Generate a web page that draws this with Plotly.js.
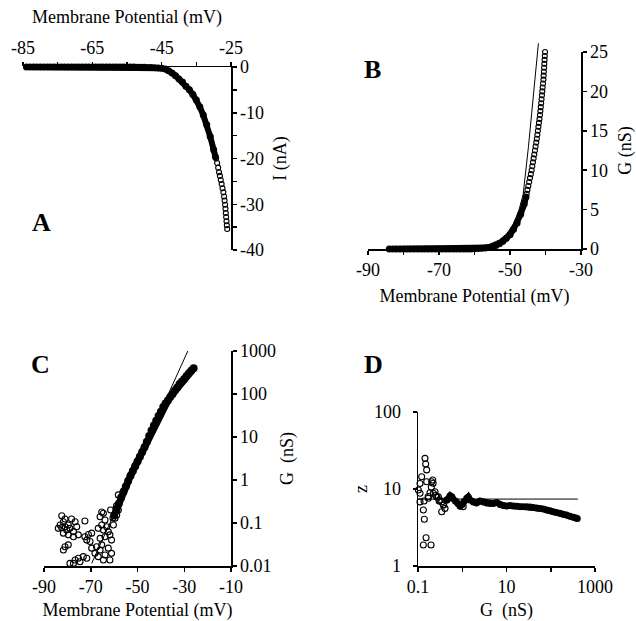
<!DOCTYPE html>
<html>
<head>
<meta charset="utf-8">
<script src="https://cdn.plot.ly/plotly-3.0.1.min.js"></script>
<style>html,body{margin:0;padding:0;background:#fff;}#chart{width:636px;height:621px;}</style>
</head>
<body>
<div id="chart"></div>
<script>
// ---------- Panel A : I-V relation ----------
const aBandV = [-84,-83,-82,-81,-80,-79,-78,-77,-76,-75,-74,-73,-72,-71,-70,-69,-68,-67,-66,-65,-64,-63,-62,-61,-60,-59,-58,-57,-56,-55,-54,-53,-52,-51,-50,-49,-48,-47,-46,-45,-44,-43,-42,-41,-40,-39,-38,-37,-36,-35,-34,-33,-32,-31,-30,-29.5];
const aBandI = [0,0,0,0,0,0,0,0,0,0,0,0,0,0,0,0,0,0,0,0,0,0,0,0,0,0,0,0,0,0,0,0,-0.05,-0.05,-0.05,-0.1,-0.1,-0.15,-0.2,-0.3,-0.45,-0.8,-1.3,-1.9,-2.6,-3.3,-4.2,-5.0,-6.0,-7.2,-8.7,-10.5,-12.6,-15.2,-18.1,-19.6];
const aTailV = [-29.3,-29.0,-28.7,-28.45,-28.2,-27.95,-27.7,-27.45,-27.2,-27.0,-26.85,-26.7,-26.6,-26.5,-26.4,-26.3,-26.2,-26.1];
const aTailI = [-20.0,-21.0,-22.0,-23.0,-23.8,-24.7,-25.6,-26.5,-27.4,-28.3,-29.2,-30.1,-31.0,-31.9,-32.8,-33.7,-34.6,-35.4];
const aXTicks = [-85,-75,-65,-55,-45,-35,-25];
const aXText = ['-85','','-65','','-45','','-25'];
const aYTicks = [-40,-35,-30,-25,-20,-15,-10,-5,0];
const aYText = ['-40','','-30','','-20','','-10','','0'];

// ---------- Panel B : conductance (linear) ----------
const bBandV = [-84,-83,-82,-81,-80,-79,-78,-77,-76,-75,-74,-73,-72,-71,-70,-69,-68,-67,-66,-65,-64,-63,-62,-61,-60,-59,-58,-57,-56,-55,-54,-53,-52,-51,-50,-49,-48,-47,-46,-45.5];
const bBandG = [0,0,0,0,0,0,0,0,0,0,0,0,0,0,0,0,0,0,0,0,0,0,0,0,0.02,0.05,0.08,0.12,0.18,0.3,0.45,0.68,0.98,1.35,1.8,2.5,3.3,4.4,5.7,6.6];
const bTailV = [-45.3,-45.08,-44.84,-44.6,-44.37,-44.13,-43.9,-43.72,-43.53,-43.35,-43.16,-42.98,-42.8,-42.61,-42.44,-42.29,-42.15,-42.0,-41.85,-41.7,-41.56,-41.44,-41.33,-41.22,-41.11,-41.0,-40.9,-40.8,-40.7,-40.59,-40.52,-40.46,-40.4,-40.33,-40.26,-40.2,-40.13,-40.1];
const bTailG = [7.0,7.5,8.0,8.5,9.0,9.5,10.0,10.5,11.0,11.5,12.0,12.5,13.0,13.5,14.0,14.5,15.0,15.5,16.0,16.5,17.0,17.5,18.0,18.5,19.0,19.5,20.0,20.5,21.0,21.5,22.0,22.5,23.0,23.5,24.0,24.5,25.0,25.3];
const bFitV = [-84,-70,-60,-56,-53,-51,-49,-47.5,-46.3,-45.8,-44.8,-43.9,-43.0,-42.0];
const bFitG = [0,0.02,0.2,0.55,1.15,1.9,3.2,4.9,6.9,8.8,13.0,17.2,21.4,26.1];
const bXTicks = [-90,-80,-70,-60,-50,-40,-30];
const bXText = ['-90','','-70','','-50','','-30'];
const bYTicks = [0,5,10,15,20,25];
const bYText = ['0','5','10','15','20','25'];

// ---------- Panel C : conductance (log) ----------
const cBandV = [-60,-59,-58,-57,-56,-55,-54,-53,-52,-51,-50,-49,-48,-47,-46,-45,-44,-43,-42,-41,-40,-39,-38,-37,-36,-35,-34,-33,-32,-31,-30,-29,-28,-27,-26];
const cBandG = [0.15,0.21,0.28,0.39,0.53,0.71,0.95,1.26,1.62,2.09,2.69,3.47,4.47,5.75,7.8,10.5,14.1,18.6,24,30.9,38.9,50,60,71,85,100,120,141,170,195,224,263,302,347,398];
const cScatV = [-82.4,-81.0,-81.7,-83.1,-83.9,-82.4,-81.0,-79.6,-80.3,-78.9,-77.4,-76.0,-76.7,-78.2,-72.5,-81.7,-79.6,-77.4,-75.3,-81.0,-81.7,-79.6,-76.7,-75.3,-77.4,-74.6,-73.2,-71.7,-78.9,-72.5,-71.0,-69.6,-71.7,-70.3,-69.6,-67.5,-66.0,-68.2,-66.8,-66.0,-64.6,-63.9,-65.3,-66.8,-64.6,-63.2,-62.5,-63.9,-61.8,-61.1,-66.0,-65.3,-62.5,-63.9,-64.6,-61.8,-61.1,-60.3,-59.6,-58.9,-58.2,-58.2,-65.3,-60.5,-61.5,-59.0];
const cScatG = [0.148,0.124,0.107,0.090,0.075,0.078,0.082,0.090,0.069,0.075,0.063,0.082,0.107,0.124,0.111,0.058,0.053,0.048,0.053,0.028,0.0236,0.031,0.0138,0.0151,0.0115,0.0126,0.0165,0.0151,0.0115,0.048,0.054,0.058,0.040,0.037,0.026,0.028,0.0236,0.0197,0.0165,0.140,0.168,0.117,0.090,0.075,0.069,0.082,0.063,0.048,0.053,0.040,0.044,0.031,0.026,0.018,0.0138,0.0138,0.0197,0.090,0.129,0.153,0.200,0.45,0.18,0.13,0.2,0.25];
const cFitV = [-69.6,-28.3];
const cFitG = [0.0115,1050];
const cXTicks = [-90,-70,-50,-30,-10];
const cXText = ['-90','-70','-50','-30','-10'];
const cYTicks = [0.01,0.1,1,10,100,1000];
const cYText = ['0.01','0.1','1','10','100','1000'];

// ---------- Panel D : z versus G ----------
const dBandG = [0.45,0.53,0.6,0.7,0.8,0.89,1.0,1.1,1.26,1.37,1.5,1.78,2.1,2.52,3.0,3.56,4.2,5.04,6.0,7.13,8.5,10.1,12,14.3,17,20.2,24,28.6,34,40.4,48,57.1,68,80.9,96,114,135,162,192,229,272,324,370,398];
const dBandZ = [7.2,8.2,7.6,7.0,6.5,6.0,6.3,6.9,7.6,7.9,7.2,6.8,6.6,7.0,6.8,6.6,6.5,6.5,6.7,6.3,6.1,6.0,6.1,6.0,5.95,5.9,5.9,5.88,5.82,5.75,5.68,5.6,5.48,5.34,5.2,5.07,4.95,4.83,4.7,4.58,4.43,4.29,4.2,4.15];
const dScatG = [0.144,0.149,0.157,0.081,0.097,0.121,0.111,0.111,0.090,0.132,0.139,0.152,0.132,0.197,0.157,0.215,0.22,0.242,0.187,0.288,0.343,0.343,0.407,0.445,0.137,0.17,0.2,0.25,0.3,0.38,0.95,1.05,0.58,0.204,0.222,0.171,0.264,0.314,0.373,0.102,0.111];
const dScatZ = [25.0,21.1,17.7,13.1,13.3,14.4,11.8,8.8,5.18,5.34,4.04,2.33,1.87,1.87,12.4,13.1,11.9,9.2,8.95,7.9,6.8,5.07,5.6,7.2,7.0,8.0,10.5,8.3,7.0,6.2,6.2,5.9,7.9,12.4,8.8,7.6,7.9,7.2,6.2,9.7,6.8];
const dRefG = [0.1,410];
const dRefZ = [7.4,7.4];
const dXTicks = [0.1,1,10,100,1000];
const dXText = ['0.1','','10','','1000'];
const dYTicks = [1,10,100];
const dYText = ['1','10','100'];

// ---------- styling ----------
const FONT = '"Liberation Serif", "Times New Roman", serif';
const W = 636, H = 621;
const fx = p => p / W;
const fy = p => 1 - p / H;
const openMk = {symbol:'circle-open', size:5, color:'#000', line:{width:1.1, color:'#000'}};

function band(x, y, xa, ya, w) {
  return {x, y, xaxis:xa, yaxis:ya, mode:'lines+markers', cliponaxis:false,
          line:{color:'#000', width:w},
          marker:{symbol:'circle', size:w+1, color:'#000', line:{width:0}},
          hoverinfo:'skip', showlegend:false};
}
function pts(x, y, xa, ya, sz) {
  return {x, y, xaxis:xa, yaxis:ya, mode:'markers', cliponaxis:false,
          marker:Object.assign({}, openMk, {size:sz||5}), hoverinfo:'skip', showlegend:false};
}
function thin(x, y, xa, ya) {
  return {x, y, xaxis:xa, yaxis:ya, mode:'lines', line:{color:'#000', width:1},
          hoverinfo:'skip', showlegend:false};
}

const data = [
  band(aBandV, aBandI, 'x', 'y', 6),
  pts(aTailV, aTailI, 'x', 'y'),
  band(bBandV, bBandG, 'x2', 'y2', 6),
  pts(bTailV, bTailG, 'x2', 'y2'),
  thin(bFitV, bFitG, 'x6', 'y6'),
  band(cBandV, cBandG, 'x3', 'y3', 7),
  pts(cScatV, cScatG, 'x3', 'y3', 6),
  thin(cFitV, cFitG, 'x3', 'y3'),
  band(dBandG, dBandZ, 'x4', 'y4', 6),
  pts(dScatG, dScatZ, 'x4', 'y4', 6),
  thin(dRefG, dRefZ, 'x4', 'y4')
];

const tickFont = {family:FONT, size:18, color:'#000'};
function ax(o) {
  return Object.assign({
    showline:true, linecolor:'#000', linewidth:1.5, mirror:false,
    ticks:'outside', ticklen:4, tickwidth:1.5, tickcolor:'#000',
    showgrid:false, zeroline:false, automargin:false, fixedrange:true,
    tickfont:tickFont, tickmode:'array'
  }, o);
}
function cross(o) {
  return Object.assign({
    showline:false, ticks:'inside', ticklen:4, tickwidth:1.5, tickcolor:'#000',
    showgrid:false, zeroline:false, showticklabels:false, automargin:false,
    fixedrange:true, tickmode:'array'
  }, o);
}
const ttl = (t, s) => ({text:t, font:{family:FONT, size:18, color:'#000'}, standoff:s});

const domA = {x:[fx(23), fx(231)], y:[fy(250), fy(67)]};
const domB = {x:[fx(368), fx(581)], y:[fy(249), fy(52)]};
const domC = {x:[fx(44), fx(231)], y:[fy(566), fy(351)]};
const domD = {x:[fx(418), fx(595)], y:[fy(566), fy(412)]};

const layout = {
  width:W, height:H, margin:{l:0, r:0, t:0, b:0},
  paper_bgcolor:'#fff', plot_bgcolor:'rgba(0,0,0,0)', showlegend:false,
  font:{family:FONT, size:18, color:'#000'},
  xaxis: ax({domain:domA.x, range:[-85,-25], side:'top', anchor:'y', tickvals:aXTicks, ticktext:aXText, title:ttl('Membrane Potential (mV)', 10)}),
  yaxis: ax({domain:domA.y, range:[-40,0], side:'right', anchor:'x', tickvals:aYTicks, ticktext:aYText, title:ttl('I (nA)', 10)}),
  xaxis2: ax({domain:domB.x, range:[-90,-30], anchor:'y2', tickvals:bXTicks, ticktext:bXText, title:ttl('Membrane Potential (mV)', 10)}),
  yaxis2: ax({domain:domB.y, range:[0,25], side:'right', anchor:'x2', tickvals:bYTicks, ticktext:bYText, title:ttl('G (nS)', 13)}),
  xaxis3: ax({domain:domC.x, range:[-90,-10], anchor:'y3', tickvals:cXTicks, ticktext:cXText, title:ttl('Membrane Potential (mV)', 15)}),
  yaxis3: ax({domain:domC.y, type:'log', range:[-2,3], side:'right', anchor:'x3', tickvals:cYTicks, ticktext:cYText, title:ttl('G  (nS)', 5)}),
  xaxis4: ax({domain:domD.x, type:'log', range:[-1,3], anchor:'y4', tickvals:dXTicks, ticktext:dXText, title:ttl('G  (nS)', 15)}),
  yaxis4: ax({domain:domD.y, type:'log', range:[0,2], side:'left', anchor:'x4', tickvals:dYTicks, ticktext:dYText, ticklabelstandoff:8, title:ttl('z', 1)}),
  // hidden axes for the fit curve of B, extended above the plotted frame
  xaxis6: {domain:domB.x, range:[-90,-30], anchor:'y6', visible:false, fixedrange:true},
  yaxis6: {domain:[fy(249), fy(249 - 27.03*7.88)], range:[0,27.03], anchor:'x6', visible:false, fixedrange:true},
  // inside ticks so every tick crosses its axis line
  xaxis5: cross({overlaying:'x', anchor:'y', side:'top', range:[-85,-25], tickvals:aXTicks}),
  yaxis5: cross({overlaying:'y', anchor:'x', side:'right', range:[-40,0], tickvals:aYTicks}),
  xaxis7: cross({overlaying:'x2', anchor:'y2', range:[-90,-30], tickvals:bXTicks}),
  yaxis7: cross({overlaying:'y2', anchor:'x2', side:'right', range:[0,25], tickvals:bYTicks}),
  xaxis8: cross({overlaying:'x3', anchor:'y3', range:[-90,-10], tickvals:cXTicks}),
  yaxis8: cross({overlaying:'y3', anchor:'x3', side:'right', type:'log', range:[-2,3], tickvals:cYTicks}),
  xaxis9: cross({overlaying:'x4', anchor:'y4', type:'log', range:[-1,3], tickvals:dXTicks}),
  yaxis9: cross({overlaying:'y4', anchor:'x4', type:'log', range:[0,2], tickvals:dYTicks}),
  annotations: [
    {text:'<b>A</b>', x:fx(41), y:fy(222), xref:'paper', yref:'paper', showarrow:false, xanchor:'center', yanchor:'middle', font:{family:FONT, size:26, color:'#000'}},
    {text:'<b>B</b>', x:fx(372), y:fy(69), xref:'paper', yref:'paper', showarrow:false, xanchor:'center', yanchor:'middle', font:{family:FONT, size:26, color:'#000'}},
    {text:'<b>C</b>', x:fx(40), y:fy(365), xref:'paper', yref:'paper', showarrow:false, xanchor:'center', yanchor:'middle', font:{family:FONT, size:26, color:'#000'}},
    {text:'<b>D</b>', x:fx(373), y:fy(365), xref:'paper', yref:'paper', showarrow:false, xanchor:'center', yanchor:'middle', font:{family:FONT, size:26, color:'#000'}}
  ]
};

Plotly.newPlot('chart', data, layout, {staticPlot:true, displayModeBar:false});
</script>
</body>
</html>
